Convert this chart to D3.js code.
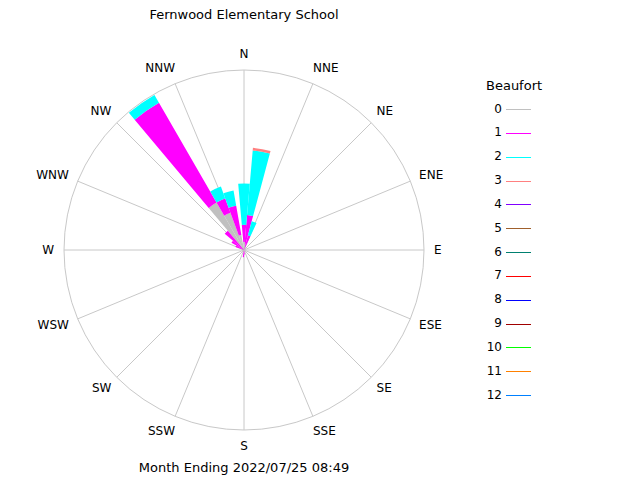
<html>
<head>
<meta charset="utf-8">
<script src="https://cdn.jsdelivr.net/npm/d3@7"></script>
<style>body{margin:0;background:#fff;} text{font-family:"DejaVu Sans",sans-serif;font-size:12px;}</style>
</head>
<body></body>
<script>
// Data: bin centre angle (deg from N) and percent per Beaufort class 0..3
var binAngles = [10, 0, 20, 325, 335, 345, 315, 305, 295, 185, 175];
var beaufort0 = [0.6, 0.9, 0.0, 6.1, 4.4, 1.7, 0.0, 0.0, 0.0, 0.0, 0.0];
var beaufort1 = [3.3, 1.9, 1.7, 12.8, 1.7, 3.3, 2.8, 1.6, 1.0, 0.8, 0.5];
var beaufort2 = [7.2, 4.6, 1.6, 1.0, 1.4, 1.7, 0.0, 0.0, 0.0, 0.0, 0.0];
var beaufort3 = [0.3, 0.0, 0.0, 0.0, 0.0, 0.0, 0.0, 0.0, 0.0, 0.0, 0.0];
var series = [beaufort0, beaufort1, beaufort2, beaufort3];
var directions = ["N","NNE","NE","ENE","E","ESE","SE","SSE","S","SSW","SW","WSW","W","WNW","NW","NNW"];
var legendLabels = ["0","1","2","3","4","5","6","7","8","9","10","11","12"];
var legendColors = ["#c0c0c0","#ff00ff","#00ffff","#ff8080","#8000ff","#a0602c","#008070","#ff0000","#0000ff","#a00000","#00ff00","#ff8000","#0080ff"];

var width = 640, height = 480;
var cx = 244, cy = 250, R = 180;

var svg = d3.select("body").append("svg").attr("width", width).attr("height", height);

var r = d3.scaleLinear().domain([0, 20]).range([0, R]);
var rad = function(d){ return d * Math.PI / 180; };

var g = svg.append("g").attr("transform", "translate(" + cx + "," + cy + ")");

g.append("circle").attr("r", R).attr("fill", "none").attr("stroke", "#c8c8c8");
directions.forEach(function(d, i){
	var a = rad(i * 22.5);
	g.append("line")
		.attr("x1", 0).attr("y1", 0)
		.attr("x2", R * Math.sin(a)).attr("y2", -R * Math.cos(a))
		.attr("stroke", "#c8c8c8");
	var lr = R + 16;
	g.append("text")
		.attr("x", lr * Math.sin(a)).attr("y", -lr * Math.cos(a))
		.attr("text-anchor", Math.abs(Math.sin(a)) < 0.1 ? "middle" : (Math.sin(a) > 0 ? "start" : "end"))
		.attr("dx", Math.abs(Math.sin(a)) < 0.1 ? 0 : (Math.sin(a) > 0 ? -6 : 6))
		.attr("dominant-baseline", "middle")
		.text(d);
});

// stacked wedges
var arc = d3.arc();
binAngles.forEach(function(ang, i){
	var base = 0;
	series.forEach(function(s, k){
		var v = s[i];
		if (v <= 0) return;
		g.append("path")
			.attr("d", arc({innerRadius: r(base), outerRadius: r(base + v),
				startAngle: rad(ang - 5), endAngle: rad(ang + 5)}))
			.attr("fill", legendColors[k]);
		base += v;
	});
});

svg.append("text").attr("x", cx).attr("y", 19).attr("text-anchor", "middle").style("font-size", "13px").text("Fernwood Elementary School");
svg.append("text").attr("x", cx).attr("y", 472).attr("text-anchor", "middle").style("font-size", "13px").text("Month Ending 2022/07/25 08:49");

svg.append("text").attr("x", 486).attr("y", 90).style("font-size", "13px").text("Beaufort");
var ly = d3.scalePoint().domain(legendLabels).range([109, 395]);
legendLabels.forEach(function(l, i){
	svg.append("text").attr("x", 502).attr("y", ly(l)).attr("text-anchor", "end")
		.attr("dominant-baseline", "middle").text(l);
	svg.append("line").attr("x1", 506).attr("x2", 531).attr("y1", Math.round(ly(l)) + 0.5).attr("y2", Math.round(ly(l)) + 0.5)
		.attr("stroke", legendColors[i]).attr("shape-rendering", "crispEdges");
});
</script>
</html>
